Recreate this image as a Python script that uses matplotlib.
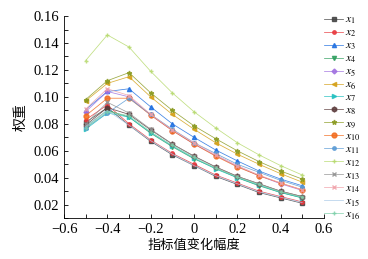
import matplotlib
matplotlib.use('Agg')
import matplotlib.pyplot as plt
from matplotlib.ticker import MultipleLocator
import numpy as np

plt.rcParams['font.family'] = ['Liberation Serif', 'Noto Sans CJK SC']
plt.rcParams['mathtext.fontset'] = 'stix'

change = [-0.5, -0.4, -0.3, -0.2, -0.1, 0.0, 0.1, 0.2, 0.3, 0.4, 0.5]

x1 = [0.081, 0.092, 0.079, 0.067, 0.057, 0.049, 0.041, 0.035, 0.029, 0.025, 0.021]
x2 = [0.083, 0.094, 0.080, 0.068, 0.058, 0.050, 0.042, 0.036, 0.030, 0.026, 0.022]
x3 = [0.0906, 0.104, 0.106, 0.0926, 0.080, 0.070, 0.0606, 0.0525, 0.045, 0.039, 0.034]
x4 = [0.078, 0.090, 0.085, 0.073, 0.063, 0.054, 0.047, 0.040, 0.034, 0.029, 0.025]
x5 = [0.089, 0.104, 0.100, 0.0865, 0.075, 0.065, 0.0565, 0.0485, 0.0415, 0.0355, 0.0305]
x6 = [0.097, 0.110, 0.115, 0.100, 0.087, 0.076, 0.066, 0.0575, 0.050, 0.043, 0.0367]
x7 = [0.076, 0.088, 0.085, 0.0735, 0.0635, 0.0545, 0.0465, 0.040, 0.0345, 0.029, 0.025]
x8 = [0.079, 0.092, 0.087, 0.0755, 0.065, 0.056, 0.048, 0.041, 0.0355, 0.030, 0.026]
x9 = [0.098, 0.112, 0.118, 0.103, 0.090, 0.0785, 0.069, 0.060, 0.052, 0.045, 0.039]
x10 = [0.086, 0.099, 0.099, 0.0865, 0.075, 0.065, 0.056, 0.048, 0.0415, 0.036, 0.031]
x11 = [0.077, 0.088, 0.099, 0.087, 0.076, 0.066, 0.058, 0.050, 0.044, 0.038, 0.033]
x12 = [0.127, 0.146, 0.137, 0.119, 0.103, 0.089, 0.077, 0.066, 0.057, 0.049, 0.042]
x13 = [0.080, 0.096, 0.088, 0.076, 0.065, 0.056, 0.048, 0.041, 0.0355, 0.030, 0.026]
x14 = [0.091, 0.106, 0.101, 0.087, 0.0755, 0.066, 0.057, 0.049, 0.042, 0.036, 0.031]
x15 = [0.078, 0.090, 0.079, 0.0675, 0.0575, 0.049, 0.0415, 0.0355, 0.0295, 0.0255, 0.0215]
x16 = [0.077, 0.089, 0.086, 0.074, 0.064, 0.055, 0.047, 0.0405, 0.035, 0.0295, 0.0255]

series = [x1, x2, x3, x4, x5, x6, x7, x8, x9, x10, x11, x12, x13, x14, x15, x16]
colors = ['#404040', '#e8383d', '#1f6fe0', '#2e9e5e', '#a070e0', '#d4a017',
          '#20c0c0', '#5a3a3a', '#8a9a20', '#f26a1b', '#5b9bd5', '#b5d96b',
          '#909090', '#f0a0a8', '#a8c8e8', '#7ccfa8']
markers = ['s', 'o', '^', 'v', 'D', '<', '>', 'h', '*', 'o', 'o', '+',
           'x', 'x', '', '+']
sizes = [2.5, 2.5, 3, 3, 2.5, 3, 3, 3.5, 3.5, 3.5, 2.5, 3, 2.5, 2.5, 0, 3]

fig = plt.figure(figsize=(3.68, 2.59), dpi=100)
ax = fig.add_axes([0.174, 0.158, 0.706, 0.78])

for i, vals in enumerate(series):
    ax.plot(change, vals, color=colors[i], marker=markers[i] if markers[i] else None,
            markersize=sizes[i], linewidth=0.55, alpha=0.85, label=r'$x_{%d}$' % (i + 1))

ax.set_xlim(-0.6, 0.6)
ax.set_ylim(0.01, 0.16)
ax.xaxis.set_minor_locator(MultipleLocator(0.1))
ax.yaxis.set_minor_locator(MultipleLocator(0.01))
ax.set_xticks([-0.6, -0.4, -0.2, 0, 0.2, 0.4, 0.6])
ax.set_xticklabels(['\u22120.6', '\u22120.4', '\u22120.2', '0', '0.2', '0.4', '0.6'])
ax.set_yticks([0.02, 0.04, 0.06, 0.08, 0.10, 0.12, 0.14, 0.16])
ax.set_yticklabels(['0.02', '0.04', '0.06', '0.08', '0.10', '0.12', '0.14', '0.16'])
ax.tick_params(which='both', direction='in', labelsize=10.5, length=3, width=0.6)
for s in ['top', 'right']:
    ax.spines[s].set_visible(False)
for s in ['left', 'bottom']:
    ax.spines[s].set_linewidth(0.6)

ax.set_xlabel('指标值变化幅度', fontsize=9.5, family=['Noto Sans CJK SC'], labelpad=2)
ax.set_ylabel('权重', fontsize=10, family=['Noto Sans CJK SC'], labelpad=4)

fig.legend(loc='upper left', bbox_to_anchor=(0.868, 0.965), frameon=False,
           fontsize=8.5, labelspacing=0.04, handlelength=1.6, handletextpad=0.2,
           borderaxespad=0)

fig.savefig('out.png', dpi=100)
